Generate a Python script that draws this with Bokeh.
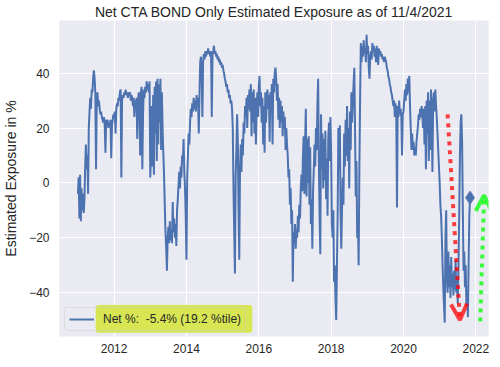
from bokeh.plotting import figure
from bokeh.models import (Range1d, FixedTicker, CustomJSTickFormatter, Arrow, OpenHead,
                          Legend, LegendItem, BoxAnnotation, ColumnDataSource)
from bokeh.embed import file_html
from bokeh.resources import INLINE

title_text = "Net CTA BOND Only Estimated Exposure as of 11/4/2021"
y_label = "Estimated Exposure in %"
legend_label = "Net %:  -5.4% (19.2 %tile)"
x_ticks = [2012, 2014, 2016, 2018, 2020, 2022]
y_ticks = [-40, -20, 0, 20, 40]

start_year = 2011.0
step_years = 0.02

exp_2011 = [-4, 2, -13, 3, -14, -2, -10, -4, -11, -6,
            6, 14, 5, 10, -4, 20, 26, 31, 27, 34,
            33, 38, 41, 38, 33, 5, 30, 33, 28, 30,
            27, 25, 26, 24, 23, 22, 24, 21, 11, 23,
            22, 23, 20, 22, 21, 23, 9, 21, 23, 25]
exp_2012 = [24, 26, 18, 27, 29, 28, 31, 30, 33, 34,
            2, 30, 32, 31, 33, 32, 34, 32, 33, 31,
            33, 32, 33, 30, 32, 31, 28, 31, 24, 30,
            29, 31, 16, 30, 33, 31, 10, 33, 35, 5,
            25, 34, 31, 35, 33, 37, 34, 36, 33, 37]
exp_2013 = [2, 12, 28, 6, 32, 3, 35, 18, 37, 8,
            38, 14, 36, 22, 38, 12, 33, 20, 11, 3,
            -8, -18, -24, -32, -20, -16, -22, -14, -21, -17,
            -22, -7, -18, -13, -20, -15, -23, -10, -6, -1,
            4, -2, 6, 2, 10, 8, 16, 4, -2, -12]
exp_2014 = [-28, 2, 10, 18, 14, 22, 27, 24, 29, 26,
            31, 27, 30, 26, 32, 28, 31, 18, 32, 44,
            46, 41, 24, 44, 47, 45, 48, 46, 48, 47,
            49, 47, 48, 46, 48, 24, 47, 48, 50, 47,
            48, 46, 47, 45, 46, 44, 45, 43, 44, 42]
exp_2015 = [43, 41, 40, 38, 37, 35, 36, 33, 34, 31,
            32, 29, 30, 27, 20, -2, -18, -33, 2, 12,
            25, 15, -10, -28, 5, 14, 4, 16, 10, 22,
            18, 28, 24, 31, 20, 32, 27, 34, 26, 36,
            17, 33, 22, 34, 18, 31, 14, 27, 33, 24]
exp_2016 = [35, 39, 28, 33, 22, 31, 14, 28, 11, 33,
            22, 30, 34, 27, 32, 15, 33, 26, 36, 14,
            38, 33, 40, 42, 38, 30, 36, 23, 31, 20,
            30, 22, 28, 17, 26, 20, 24, 12, 20, 14,
            10, 2, 5, -8, -2, -15, -10, -36, -18, -22]
exp_2017 = [-15, -24, -17, -20, -12, -18, -8, -13, -2, 3,
            -3, 10, 17, -4, 14, 27, -5, 16, 0, 17,
            -8, 13, -15, -6, -24, -3, 5, 14, 6, 20,
            12, 28, 38, 8, -12, -26, 25, 5, 18, -2,
            16, 1, 19, -6, 9, -12, 16, 22, 8, 24]
exp_2018 = [10, -15, -20, -10, -36, -30, -42, -50, -30, -12,
            20, 5, 21, -10, -24, -10, 2, -8, 18, 6,
            23, 10, 28, 8, 20, -2, 26, 12, 33, 22,
            30, 36, 42, 20, -5, 8, -20, -12, -30, 5,
            30, 51, 44, 50, 46, 52, 47, 49, 44, 54]
exp_2019 = [47, 50, 42, 38, 46, 48, 45, 51, 48, 50,
            46, 49, 44, 50, 47, 43, 49, 47, 48, 46,
            47, 45, 46, 44, 46, 45, 44, 42, 41, 39,
            38, 36, 35, 33, 32, 30, 28, 30, 24, 29,
            25, -9, 28, 24, 30, 25, 27, 24, 10, 25]
exp_2020 = [26, 30, 34, 30, 36, 32, 38, 33, 39, 28,
            20, 12, 18, 12, 15, 10, 13, 10, 15, 18,
            21, 25, 23, 27, 24, 28, 25, 20, 27, 14,
            28, 5, 30, 18, 33, 8, 30, 12, 34, 22,
            4, 30, 33, 26, 34, 28, 24, 18, 12, 6]
exp_2021 = [0, -8, -12, -20, -30, -38, -45, -51, -20, -10,
            -35, -40, -25, -38, -30, -42, -27, -38, -33, -41,
            -32, -39, -28, -40, -35, -44, -30, -12, 10, 22,
            25, 15, -10, -32, -25, -38, -30, -45, -40, -49,
            -30, -12, -5.4]

red_arrow_x = [2021.22, 2021.56]
red_arrow_y = [25, -50]
green_arrow_x = [2022.12, 2022.23]
green_arrow_y = [-50.5, -4.5]

net_exposure = (exp_2011 + exp_2012 + exp_2013 + exp_2014 + exp_2015 + exp_2016 +
                exp_2017 + exp_2018 + exp_2019 + exp_2020 + exp_2021)
dates = [round(start_year + step_years * i, 2) for i in range(len(net_exposure))]

FONT = "Liberation Sans"
TXT = "#262626"
BLUE = "#4C72B0"

p = figure(frame_width=429, frame_height=316, x_range=Range1d(2010.49, 2022.35),
           y_range=Range1d(-56.0, 59.2), output_backend="svg", toolbar_location=None,
           min_border_left=49, min_border_right=6, min_border_top=13, min_border_bottom=20,
           background_fill_color="#EAEAF2", border_fill_color="white",
           outline_line_color=None, title=title_text)

p.title.text_font = FONT
p.title.text_font_size = "14px"
p.title.text_font_style = "normal"
p.title.text_color = TXT
p.title.align = "center"
p.title.standoff = 2

p.xgrid.grid_line_color = "white"
p.ygrid.grid_line_color = "white"
p.xgrid.grid_line_width = 1
p.ygrid.grid_line_width = 1

p.xaxis.ticker = FixedTicker(ticks=x_ticks)
p.yaxis.ticker = FixedTicker(ticks=y_ticks)
p.yaxis.formatter = CustomJSTickFormatter(
    code="return tick < 0 ? '\\u2212' + Math.abs(tick) : String(tick);")
for ax in (p.xaxis, p.yaxis):
    ax.axis_line_color = None
    ax.major_tick_line_color = None
    ax.minor_tick_line_color = None
    ax.major_tick_out = 0
    ax.major_tick_in = 0
    ax.major_label_text_font = FONT
    ax.major_label_text_font_size = "12px"
    ax.major_label_text_color = TXT
p.xaxis.major_label_standoff = 7
p.yaxis.major_label_standoff = 10
p.yaxis.axis_label = y_label
p.yaxis.axis_label_text_font = FONT
p.yaxis.axis_label_text_font_size = "14px"
p.yaxis.axis_label_text_font_style = "normal"
p.yaxis.axis_label_text_color = TXT
p.yaxis.axis_label_standoff = 7

src = ColumnDataSource(data=dict(date=dates, net=net_exposure))
line = p.line(x="date", y="net", source=src, line_color=BLUE, line_width=2)
p.scatter(x=[dates[-1]], y=[net_exposure[-1]], marker="diamond", size=13,
          fill_color=BLUE, line_color=BLUE)

p.add_layout(Arrow(end=OpenHead(size=16, line_color="red", line_width=4, line_alpha=0.75),
                   x_start=red_arrow_x[0], y_start=red_arrow_y[0],
                   x_end=red_arrow_x[1], y_end=red_arrow_y[1],
                   line_color="red", line_alpha=0.75, line_width=4, line_dash="4 5"))
p.add_layout(Arrow(end=OpenHead(size=16, line_color="lime", line_width=4, line_alpha=0.75),
                   x_start=green_arrow_x[0], y_start=green_arrow_y[0],
                   x_end=green_arrow_x[1], y_end=green_arrow_y[1],
                   line_color="lime", line_alpha=0.75, line_width=4, line_dash="4 5"))

highlight = BoxAnnotation(left=2011.49, right=2015.82, bottom=-54.6, top=-44.5,
                          fill_color="#D8E64A", fill_alpha=0.95, line_color=None,
                          border_radius=3)
p.add_layout(highlight)

legend = Legend(items=[LegendItem(label=legend_label, renderers=[line])], location=(5, 5))
legend.background_fill_alpha = 0
legend.border_line_color = "#CCCCCC"
legend.border_line_width = 1
legend.border_radius = 3
legend.label_text_font = FONT
legend.label_text_font_size = "12px"
legend.label_text_color = TXT
legend.glyph_width = 25
legend.glyph_height = 14
legend.label_height = 14
legend.label_standoff = 9
legend.padding = 4
legend.margin = 0
legend.spacing = 0
p.add_layout(legend)

open("out.html", "w").write(file_html(p, INLINE))
